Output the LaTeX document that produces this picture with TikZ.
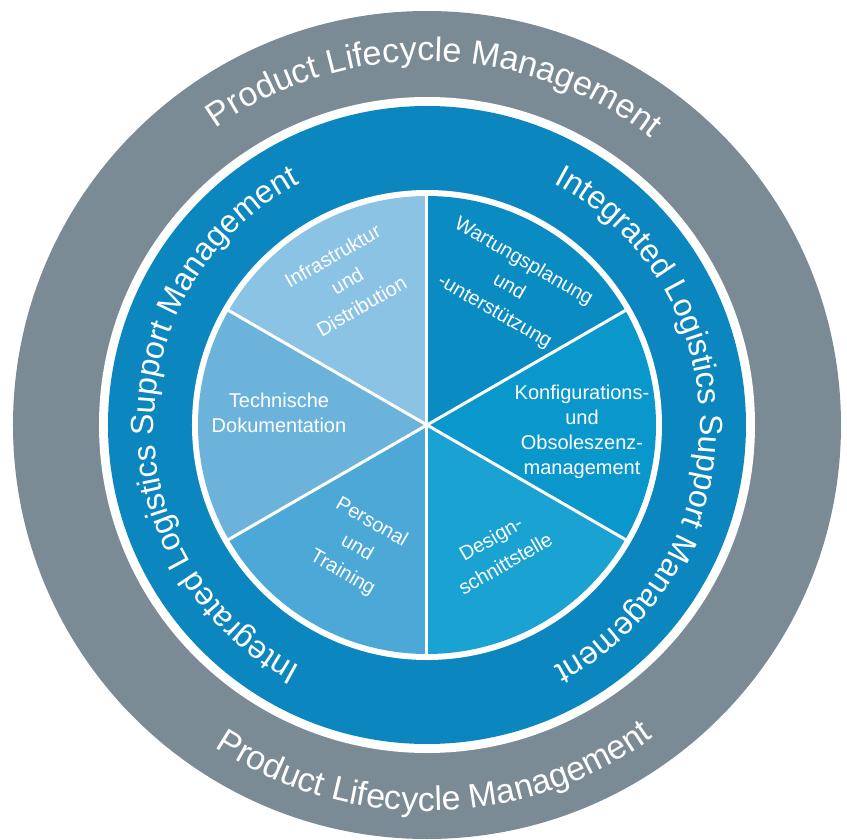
\documentclass[tikz,border=0pt]{standalone}
\usepackage{fontspec}
\setmainfont{Liberation Sans}
\usetikzlibrary{decorations.text}
\definecolor{plmgray}{RGB}{123,139,150}
\definecolor{ilsblue}{RGB}{12,134,191}
\definecolor{segA}{RGB}{139,195,228}
\definecolor{segB}{RGB}{108,179,220}
\definecolor{segC}{RGB}{76,168,214}
\definecolor{segD}{RGB}{26,163,210}
\definecolor{segE}{RGB}{10,152,204}
\definecolor{segF}{RGB}{10,140,195}
\tikzset{
  seglabel/.style={text=white,align=center,inner sep=0pt,font=\fontsize{20}{25}\selectfont},
  segtilt/.style={seglabel,font=\fontsize{20}{29}\selectfont},
  plmtext/.style={decorate,decoration={text along path,text align=center,text color=white,
    text={|\fontsize{34}{34}\selectfont|Product Lifecycle Management}}},
  ilstext/.style={decorate,decoration={text along path,text align=center,text color=white,
    text={|\fontsize{32}{32}\selectfont|Integrated Logistics Support Management}}}
}
\begin{document}
\begin{tikzpicture}[x=1pt,y=1pt]
      \useasboundingbox (-427,-414) rectangle (420,425);
      \fill [plmgray] (0,0) circle (414);
      \fill [white] (0,0) circle (328);
      \fill [ilsblue] (0,0) circle (319);
      \fill [white] (0,0) circle (235);
      \foreach \a/\c in {90/segA,150/segB,210/segC,270/segD,330/segE,30/segF}
        \fill [\c] (0,0) -- (\a:229) arc (\a:\a+60:229) -- cycle;
      \foreach \a in {30,90,...,330}
        \draw [white,line width=3pt] (0,0) -- (\a:232);

      \path [plmtext] (168.7:364) arc (168.7:8.7:364);
      \path [plmtext] (191.3:386) arc (191.3:351.3:386);
      \path [ilstext] (270:273) arc (270:90:273);
      \path [ilstext] (90:273) arc (90:-90:273);

      \node [segtilt,rotate=30] (1) at (-80,144) {Infrastruktur\\und\\Distribution};
      \node [segtilt,rotate=-30] (2) at (82,138) {Wartungsplanung\\und\\-unterstützung};
      \node [seglabel] (3) at (-148,12) {Technische\\Dokumentation};
      \node [seglabel] (4) at (155,-7) {Konfigurations-\\und\\Obsoleszenz-\\management};
      \node [segtilt,rotate=-30] (5) at (-70,-123) {Personal\\und\\Training};
      \node [segtilt,rotate=30] (6) at (71,-126) {Design-\\schnittstelle};
\end{tikzpicture}
\end{document}
